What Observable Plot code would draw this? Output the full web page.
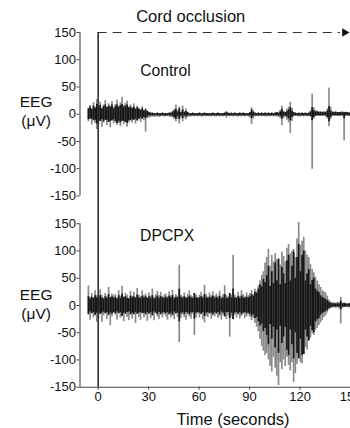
<!DOCTYPE html>
<html><head><meta charset="utf-8">
<script src="https://cdn.jsdelivr.net/npm/d3@7"></script>
<script src="https://cdn.jsdelivr.net/npm/@observablehq/plot@0.6"></script>
<style>body{margin:0;background:#fff}svg{display:block}</style>
</head><body><div id="chart"></div>
<script>
// Sample grid: one envelope per second, starting at t = -6 s
const tStart = -6;
// Control trace, per-second max / min / dense-core amplitude (µV)
const controlHi = [10,16,9,21,13,27,
  15,22,11,17,25,13,19,14,23,12,
  18,26,14,21,31,16,20,24,13,17,
  12,19,10,15,11,8,14,7,10,6,
  4,2,2,1,1,2,1,1,2,1,
  1,1,2,2,5,9,17,6,13,4,
  15,5,10,3,1,1,2,1,1,1,
  2,1,1,2,1,1,1,1,2,1,
  1,2,1,1,1,2,5,2,1,2,
  1,2,1,1,2,1,2,1,1,1,
  3,12,6,2,1,2,1,2,1,2,
  1,2,1,2,1,2,3,2,7,15,
  5,3,9,13,22,11,3,2,1,2,
  1,2,1,2,1,2,6,37,12,7,
  6,5,5,4,5,4,10,48,13,5,
  4,5,3,3,4,5,3,4,3,2];
const controlLo = [-14,-9,-20,-12,-17,-28,
  -19,-13,-24,-16,-11,-21,-15,-25,-12,-18,
  -14,-21,-17,-23,-13,-19,-15,-24,-16,-12,
  -16,-11,-18,-13,-10,-15,-9,-12,-33,-8,
  -7,-6,-5,-6,-5,-5,-6,-5,-4,-5,
  -5,-4,-5,-6,-7,-10,-14,-9,-18,-7,
  -14,-7,-10,-6,-5,-5,-4,-5,-4,-5,
  -4,-5,-5,-4,-5,-4,-5,-5,-4,-5,
  -5,-4,-5,-4,-5,-4,-7,-4,-5,-4,
  -5,-4,-5,-5,-4,-5,-4,-5,-4,-5,
  -7,-19,-9,-5,-4,-5,-4,-5,-4,-5,
  -5,-4,-5,-4,-5,-4,-5,-6,-8,-21,
  -8,-6,-11,-16,-35,-13,-5,-4,-4,-5,
  -5,-4,-5,-4,-5,-4,-6,-101,-9,-4,
  -3,-4,-3,-4,-3,-5,-9,-23,-10,-4,
  -3,-3,-4,-4,-3,-3,-49,-3,-3,-4];
const controlCore = [10,13,9,15,11,18,
  13,16,10,14,17,12,15,13,17,10,
  14,17,13,16,18,13,15,17,12,13,
  10,13,9,12,9,7,10,6,8,5,
  3,3,3,3,3,3,3,3,3,3,
  3,3,3,3,4,6,9,4,10,3,
  8,3,5,3,3,3,3,3,3,3,
  3,3,3,3,3,3,3,3,3,3,
  3,3,3,3,3,3,3,3,3,3,
  3,3,3,3,3,3,3,3,3,3,
  3,8,4,3,3,3,3,3,3,3,
  3,3,3,3,3,3,3,3,4,9,
  4,3,5,8,12,6,3,3,3,3,
  3,3,3,3,3,3,4,12,6,4,
  4,3,3,3,3,3,6,14,6,3,
  3,3,3,3,3,3,8,3,3,3];
// DPCPX trace, per-second max / min / dense-core amplitude (µV)
const dpcpxHi = [36,15,22,14,27,18,
  16,29,19,13,22,17,33,15,21,18,
  20,14,27,17,35,16,22,19,13,26,
  17,24,15,31,19,16,27,18,21,14,
  23,17,30,15,20,26,18,24,16,19,
  21,16,25,18,28,15,20,17,74,19,
  16,23,15,20,27,18,16,22,19,15,
  19,24,17,37,20,16,23,18,25,17,
  21,17,26,15,20,36,18,16,22,19,
  92,19,15,24,17,27,20,16,23,18,
  22,27,20,30,26,36,45,55,62,78,
  88,103,72,92,80,95,84,85,74,98,
  90,80,105,112,95,100,103,88,122,152,
  110,118,125,100,92,88,75,66,60,52,
  45,38,33,27,25,23,17,10,6,5,
  5,4,6,5,15,4,5,4,3,4];
const dpcpxLo = [-18,-27,-15,-23,-19,-31,
  -24,-16,-31,-19,-15,-26,-18,-37,-21,-14,
  -18,-27,-15,-23,-20,-30,-16,-22,-28,-17,
  -25,-18,-33,-16,-22,-27,-15,-23,-19,-29,
  -16,-24,-20,-28,-15,-21,-26,-18,-23,-17,
  -21,-27,-17,-23,-19,-26,-16,-22,-68,-24,
  -18,-22,-27,-17,-21,-25,-16,-55,-23,-16,
  -23,-17,-26,-32,-20,-22,-16,-25,-19,-21,
  -17,-24,-20,-27,-18,-22,-26,-19,-58,-21,
  -26,-18,-23,-17,-25,-20,-16,-24,-21,-18,
  -22,-28,-24,-33,-40,-48,-62,-75,-84,-92,
  -88,-100,-112,-122,-95,-115,-130,-147,-105,-118,
  -100,-112,-95,-110,-120,-105,-141,-125,-108,-98,
  -105,-107,-90,-77,-82,-65,-60,-52,-55,-45,
  -42,-37,-32,-28,-22,-19,-14,-8,-6,-5,
  -4,-5,-4,-6,-34,-5,-4,-3,-5,-4];
const dpcpxCore = [16,12,15,13,18,14,
  13,18,14,12,16,13,20,14,16,13,
  15,12,18,13,21,14,16,13,12,17,
  14,16,13,19,14,13,17,14,16,13,
  16,13,18,12,14,17,13,16,14,13,
  15,13,17,14,18,12,15,14,30,15,
  13,16,13,14,17,14,13,25,14,13,
  14,16,13,20,14,13,15,14,17,13,
  15,13,17,12,14,20,13,13,24,14,
  30,14,13,16,13,17,14,13,15,14,
  16,20,17,24,22,30,38,34,48,42,
  55,72,35,62,40,78,45,88,38,70,
  58,40,82,92,45,72,98,50,88,112,
  62,92,100,45,58,66,38,46,50,30,
  26,24,18,15,13,11,9,6,4,3,
  3,3,3,3,8,3,3,3,2,3];
const yTicks = [150,100,50,0,-50,-100,-150];
const xTicks = [0,30,60,90,120,150];
const panelLabels = ["Control","DPCPX"];
const occlusionLabel = "Cord occlusion";
const occlusionStart = 0;

const OFF = 351; // vertical offset of upper panel in the shared y scale
const xMin = -10.8, xMax = 150;
function bins(hi, lo, core, off){
  return hi.map((h,i)=>({
    t: tStart+i,
    hi: h+off, lo: lo[i]+off,
    chi: Math.min(h, core[i])+off, clo: Math.max(lo[i], -core[i])+off
  }));
}
const ctrl = bins(controlHi, controlLo, controlCore, OFF);
const dpc = bins(dpcpxHi, dpcpxLo, dpcpxCore, 0);
const font = "'Liberation Sans', Arial, Helvetica, sans-serif";
const axisColor = "#444";
const outerGray = "#8a8a8a", coreInk = "#161616";

const chart = Plot.plot({
  width: 350, height: 428,
  marginLeft: 79.5, marginRight: 0, marginTop: 32, marginBottom: 41.3,
  style: {fontFamily: font, fontSize: "13px", color: "#111", background: "#fff", overflow: "visible"},
  x: {domain: [xMin, xMax], axis: null},
  y: {domain: [-150, 150+OFF], axis: null},
  marks: [
    Plot.rect(ctrl, {x1:"t", x2: d=>d.t+1, y1:"lo", y2:"hi", fill: outerGray}),
    Plot.rect(ctrl, {x1:"t", x2: d=>d.t+1, y1:"clo", y2:"chi", fill: coreInk}),
    Plot.rect(dpc, {x1:"t", x2: d=>d.t+1, y1:"lo", y2:"hi", fill: outerGray}),
    Plot.rect(dpc, {x1:"t", x2: d=>d.t+1, y1:"clo", y2:"chi", fill: coreInk}),
    // axis lines
    Plot.ruleX([xMin], {y1: -150+OFF, y2: 150+OFF, stroke: axisColor, strokeWidth: 1.1}),
    Plot.ruleX([xMin], {y1: -150, y2: 150, stroke: axisColor, strokeWidth: 1.1}),
    Plot.ruleY([-150], {x1: xMin, x2: xMax, stroke: axisColor, strokeWidth: 1.1}),
    Plot.axisY(yTicks.map(d=>d+OFF), {anchor:"left", tickSize:3, tickPadding:1, tickFormat: d=>String(d-OFF), label:null, stroke: axisColor}),
    Plot.axisY(yTicks, {anchor:"left", tickSize:3, tickPadding:1, tickFormat: d=>String(d), label:null, stroke: axisColor}),
    Plot.axisX(xTicks, {anchor:"bottom", tickSize:3, tickPadding:2, tickFormat: d=>String(d), label:null, stroke: axisColor}),
    // occlusion marker
    Plot.ruleX([occlusionStart], {y1:-150, y2:150+OFF, stroke:"#222", strokeWidth:1.5}),
    Plot.ruleY([150+OFF], {x1: occlusionStart, x2: 144, stroke:"#333", strokeWidth:1.2, strokeDasharray:"9,6"}),
    Plot.dot([146.5], {x: d=>d, y: ()=>150+OFF, symbol:"triangle2", rotate:90, r:4, fill:"#111", stroke:null}),
    Plot.text([occlusionLabel], {x: 55, y: 150+OFF, dy:-16, text: d=>d, fontSize: 16.5, fill:"#111"}),
    // panel labels
    Plot.text([panelLabels[0]], {x: 40, y: 79+OFF, text: d=>d, fontSize: 15.7, fill:"#111"}),
    Plot.text([panelLabels[1]], {x: 41, y: 128, text: d=>d, fontSize: 15.7, fill:"#111"}),
    // y labels
    Plot.text(["EEG"], {x: -36.9, y: OFF, dy:-12, text: d=>d, fontSize: 15.5, fill:"#111"}),
    Plot.text(["(\u03bcV)"], {x: -36.9, y: OFF, dy:7, text: d=>d, fontSize: 15.5, fill:"#111"}),
    Plot.text(["EEG"], {x: -36.9, y: 0, dy:-10.6, text: d=>d, fontSize: 15.5, fill:"#111"}),
    Plot.text(["(\u03bcV)"], {x: -36.9, y: 0, dy:8.4, text: d=>d, fontSize: 15.5, fill:"#111"}),
    // x label
    Plot.text(["Time (seconds)"], {x: 80.2, y: -150, dy: 32.6, text: d=>d, fontSize: 16.5, fill:"#111"})
  ]
});
document.getElementById("chart").appendChild(chart);
</script></body></html>
